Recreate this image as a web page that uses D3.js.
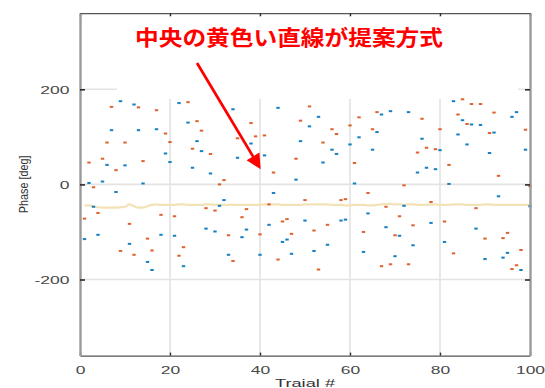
<!DOCTYPE html>
<html><head><meta charset="utf-8">
<script src="https://cdn.jsdelivr.net/npm/d3@7"></script>
<style>html,body{margin:0;padding:0;background:#fff;}svg{display:block;}</style>
</head><body>
<svg id="chart" width="545" height="388"></svg>
<script>
const trials = d3.range(1, 101);
const blueValues = [-115,3,-47,-106,6,41,114,-16,175,40,-125,168,114,2,-163,-180,116,-106,65,47,
-108,171,-172,130,35,91,70,-93,23,-99,-45,-33,-148,158,56,-111,-95,86,57,-148,
61,-85,-18,161,-121,-116,-146,10,91,-76,122,-140,142,46,-127,73,64,-76,-74,84,
2,99,-142,-61,73,110,147,-90,154,-151,-108,-45,152,-128,25,96,35,-81,32,72,
-121,1,175,105,135,84,126,-93,125,-157,66,109,-25,-154,-144,142,152,-180,73,-46];
const orangeValues = [-72,46,-6,-60,54,88,163,30,-140,88,-83,-148,162,49,-114,-139,156,-64,107,89,
-67,-150,-132,173,75,133,113,-50,64,-55,0,9,-107,-161,97,-69,-52,129,101,-105,
103,-42,25,-158,-78,-73,-104,54,134,-33,164,-97,-179,88,-85,116,106,-33,-31,124,
45,141,-100,-18,116,152,-172,-47,-168,-107,-67,-2,-168,-86,67,138,77,-37,74,116,
-78,41,-145,147,179,127,169,-50,169,-114,108,151,18,-113,-102,-178,-170,-138,115,-4];
const proposedValues = [-44,-44,-46,-48,-49,-49,-49,-49,-48,-47,-42,-46,-49,-49,-46,-43,-42,-43,-43,-43,
-43,-42,-42,-43,-43,-43,-43,-42,-42,-43,-43,-43,-43,-43,-43,-43,-43,-43,-43,-43,
-42,-42,-42,-42,-43,-43,-43,-43,-43,-42,-42,-42,-42,-42,-42,-43,-43,-43,-44,-44,
-43,-43,-43,-44,-44,-43,-42,-41,-41,-42,-42,-43,-42,-42,-43,-43,-43,-42,-42,-43,
-43,-43,-42,-42,-42,-43,-43,-43,-43,-42,-42,-43,-43,-43,-43,-43,-43,-43,-43,-43];
const xTicks = [0,20,40,60,80,100];
const yTicks = [-200,0,200];
const titleText = "中央の黄色い直線が提案方式";
const xLabel = "Traial #";
const yLabel = "Phase [deg]";

const svg = d3.select("#chart");
const L = 80, R = 530, T = 13.2, B = 355.6;
const x = d3.scaleLinear().domain([0,100]).range([L,R]);
const y = d3.scaleLinear().domain([-360,360]).range([B,T]);
const SX = 1.65;
const font = "'Liberation Sans', Arial, sans-serif";

// grid
svg.append("g").selectAll("line").data(xTicks.slice(1,-1)).join("line")
  .attr("x1", d=>x(d)).attr("x2", d=>x(d)).attr("y1", T).attr("y2", B)
  .attr("stroke", "#e3e3e3").attr("stroke-width", 1.6);
svg.append("g").selectAll("line").data(yTicks).join("line")
  .attr("x1", L).attr("x2", R).attr("y1", d=>y(d)).attr("y2", d=>y(d))
  .attr("stroke", "#e3e3e3").attr("stroke-width", 1.6);

// white annotation box covering the top part
svg.append("rect").attr("x", 117).attr("y", 17).attr("width", 401).attr("height", 82).attr("fill", "#fff");

// proposed line
svg.append("path").datum(proposedValues)
  .attr("d", d3.line().x((d,i)=>x(trials[i])).y(d=>y(d)).curve(d3.curveMonotoneX))
  .attr("fill", "none").attr("stroke", "#f3e2b6").attr("stroke-width", 2.2);

// markers
function marks(vals, color) {
  svg.append("g").selectAll("rect").data(vals).join("rect")
    .attr("x", (d,i)=>x(trials[i]) - 1.7).attr("y", d=>y(d) - 1)
    .attr("width", 3.4).attr("height", 2).attr("fill", color).attr("opacity", 0.9);
}
marks(blueValues, "#0072BD");
marks(orangeValues, "#D95319");

// axes
const tickColor = "#2b2b2b";
const fmt = d => String(d);
const gB = svg.append("g").attr("transform", `translate(0,${B})`)
  .call(d3.axisBottom(x).tickValues(xTicks).tickFormat(fmt).tickSizeInner(-3).tickSizeOuter(0).tickPadding(0));
const gT = svg.append("g").attr("transform", `translate(0,${T})`)
  .call(d3.axisTop(x).tickValues(xTicks).tickSizeInner(-3).tickSizeOuter(0).tickFormat(""));
const gL = svg.append("g").attr("transform", `translate(${L},0)`)
  .call(d3.axisLeft(y).tickValues(yTicks).tickFormat(fmt).tickSizeInner(-5).tickSizeOuter(0).tickPadding(0));
const gR = svg.append("g").attr("transform", `translate(${R},0)`)
  .call(d3.axisRight(y).tickValues(yTicks).tickSizeInner(-5).tickSizeOuter(0).tickFormat(""));
[gB,gT].forEach(g=>{ g.select(".domain").attr("stroke", "#555").attr("stroke-width", 1.2);
  g.selectAll(".tick line").attr("stroke", tickColor).attr("stroke-width", 1.4); });
[gL,gR].forEach(g=>{ g.select(".domain").attr("stroke", "#9a9a9a").attr("stroke-width", 2.4);
  g.selectAll(".tick line").attr("stroke", tickColor).attr("stroke-width", 1.6); });

gB.selectAll(".tick text").attr("y", 18.2).attr("dy", null).attr("x", 0)
  .attr("transform", `scale(${SX},1)`).attr("font-family", font).attr("font-size", 10.6).attr("fill", "#4a4a4a");
gL.selectAll(".tick text").attr("x", -10.5/SX).attr("dy", "0.36em")
  .attr("transform", `scale(${SX},1)`).attr("font-family", font).attr("font-size", 10.6).attr("fill", "#4a4a4a");
gB.attr("font-family", null); gL.attr("font-family", null);

// axis labels
svg.append("text").attr("transform", `translate(${(L+R)/2},387) scale(1.72,1)`)
  .attr("text-anchor", "middle").attr("font-family", font).attr("font-size", 10.6).attr("fill", "#333").text(xLabel);
svg.append("text").attr("transform", `translate(27.5,${(y(0))}) rotate(-90) scale(1,1.15)`)
  .attr("text-anchor", "middle").attr("font-family", font).attr("font-size", 10.8).attr("fill", "#333").text(yLabel);

// title annotation
svg.append("text").attr("x", 289).attr("y", 44.5).attr("text-anchor", "middle")
  .attr("font-family", "'Noto Sans CJK JP', sans-serif").attr("font-weight", "bold")
  .attr("font-size", 21).attr("textLength", 308).attr("lengthAdjust", "spacingAndGlyphs")
  .attr("fill", "#ff0000").text(titleText);

// arrow
const ax1 = 197, ay1 = 63, ax2 = 260.7, ay2 = 169.3;
const len = Math.hypot(ax2-ax1, ay2-ay1), ux = (ax2-ax1)/len, uy = (ay2-ay1)/len;
const hl = 15, hw = 7.5;
const bx = ax2 - ux*hl, by = ay2 - uy*hl;
svg.append("line").attr("x1", ax1).attr("y1", ay1).attr("x2", bx + ux*2).attr("y2", by + uy*2)
  .attr("stroke", "#ff0000").attr("stroke-width", 2.8);
svg.append("path").attr("d", `M${ax2},${ay2}L${bx - uy*hw},${by + ux*hw}L${bx + uy*hw},${by - ux*hw}Z`)
  .attr("fill", "#ff0000");
</script>
</body></html>
